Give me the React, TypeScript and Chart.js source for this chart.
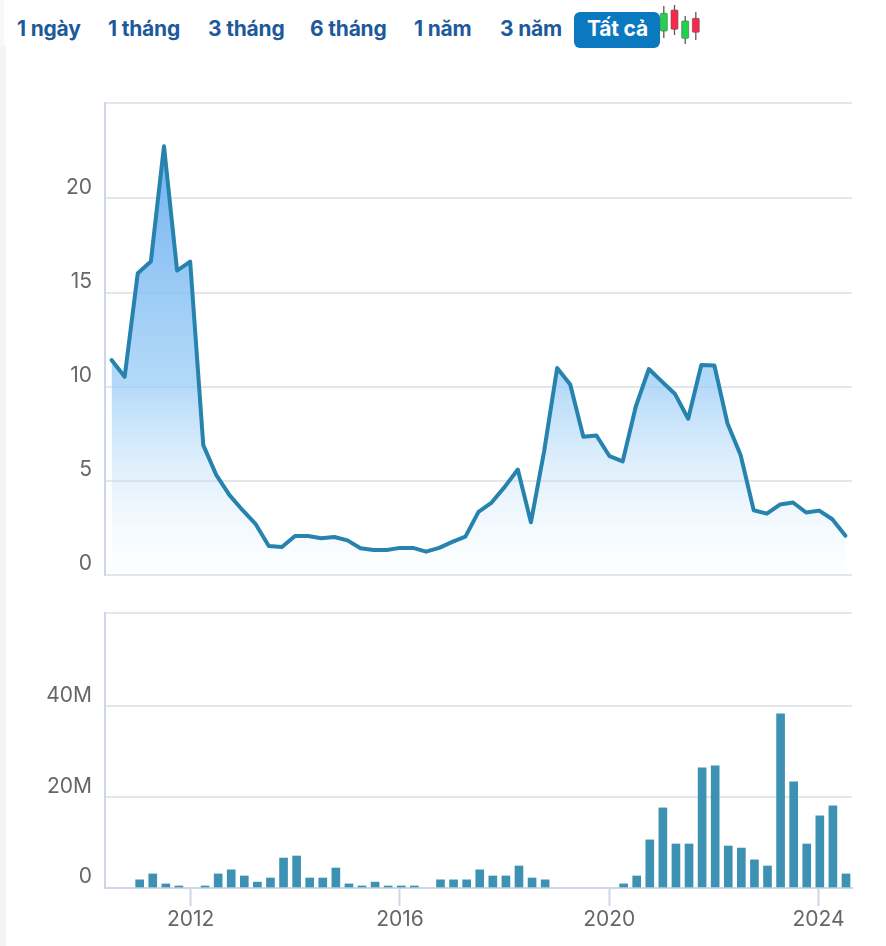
import React, { useEffect, useRef } from "react";
import { Chart, registerables } from "chart.js";

Chart.register(...registerables);

const quarters: string[] = [
  "2010-07","2010-10",
  "2011-01","2011-04","2011-07","2011-10",
  "2012-01","2012-04","2012-07","2012-10",
  "2013-01","2013-04","2013-07","2013-10",
  "2014-01","2014-04","2014-07","2014-10",
  "2015-01","2015-04","2015-07","2015-10",
  "2016-01","2016-04","2016-07","2016-10",
  "2017-01","2017-04","2017-07","2017-10",
  "2018-01","2018-04","2018-07","2018-10",
  "2019-01","2019-04","2019-07","2019-10",
  "2020-01","2020-04","2020-07","2020-10",
  "2021-01","2021-04","2021-07","2021-10",
  "2022-01","2022-04","2022-07","2022-10",
  "2023-01","2023-04","2023-07","2023-10",
  "2024-01","2024-04","2024-07",
];

const price: number[] = [
  11.42,10.53,16.03,16.65,22.77,16.17,16.65,6.9,5.3,4.24,3.44,2.7,1.54,1.49,2.07,2.07,
  1.95,2.02,1.84,1.42,1.33,1.33,1.44,1.44,1.24,1.44,1.76,2.04,3.35,3.85,4.68,5.6,2.8,
  6.54,10.99,10.12,7.34,7.41,6.31,6.03,8.94,10.94,10.27,9.61,8.3,11.15,11.13,8.05,6.37,
  3.44,3.26,3.74,3.85,3.32,3.42,2.96,2.09,
];

// millions of shares; null where no bar is drawn
const volume: (number | null)[] = [
  null,null,1.8,3.1,0.9,0.45,null,0.45,3.1,4,2.65,1.3,2.2,6.6,7.05,2.2,
  2.2,4.4,0.9,0.45,1.3,0.45,0.45,0.45,null,1.8,1.8,1.8,4,2.65,2.65,4.85,2.2,
  1.8,null,null,null,null,null,0.9,2.65,10.6,17.65,9.7,9.7,26.5,26.9,9.25,8.8,
  6.2,4.85,38.4,23.4,9.7,15.9,18.1,3.1,
];

const priceTicks: number[] = [0, 5, 10, 15, 20];
const priceTop = 25.07;
const volumeTicks: number[] = [0, 20, 40];
const volumeTop = 60.6;
const yearTicks: string[] = ["2012-01", "2016-01", "2020-01", "2024-01"];

const ranges: { label: string; left: number }[] = [
  { label: "1 ngày", left: 17 },
  { label: "1 tháng", left: 108 },
  { label: "3 tháng", left: 208 },
  { label: "6 tháng", left: 310 },
  { label: "1 năm", left: 414 },
  { label: "3 năm", left: 500 },
];

const FONT = "Inter, 'Noto Sans', sans-serif";
const GRID = "#e3e6ea";
const AXIS = "#cdd6e8";
const TEXT = "#666666";
const AXIS_WIDTH = 105;
// volume bars sit a little later than the quarter's tick
const BAR_SHIFT = 0.1;

function yScale(values: number[], top: number, fmt: (v: number) => string) {
  return {
    min: 0,
    max: top,
    afterBuildTicks(s: any) {
      s.ticks = [...values, top].map((value) => ({ value }));
    },
    afterFit(s: any) {
      s.width = AXIS_WIDTH;
      s.paddingTop = 0;
      s.paddingBottom = 0;
    },
    border: { display: true, color: AXIS, width: 2 },
    grid: { color: GRID, lineWidth: 2, drawTicks: false },
    ticks: {
      autoSkip: false,
      padding: 13,
      labelOffset: -11,
      color: TEXT,
      font: { family: FONT, size: 21 },
      callback: (v: number) => (v === top ? "" : fmt(v)),
    },
  };
}

function Candle({ x, w0, w1, b0, b1, fill }: { x: number; w0: number; w1: number; b0: number; b1: number; fill: string }) {
  return (
    <g>
      <line x1={x + 3.5} x2={x + 3.5} y1={w0} y2={w1} stroke="#5a5a5a" strokeWidth={1.3} />
      <rect x={x} y={b0} width={7} height={b1 - b0} fill={fill} stroke="#5a5a5a" strokeWidth={0.6} rx={0.8} />
    </g>
  );
}

export default function App() {
  const topRef = useRef<HTMLCanvasElement>(null);
  const bottomRef = useRef<HTMLCanvasElement>(null);

  useEffect(() => {
    const lineChart = new Chart(topRef.current!, {
      type: "line",
      data: {
        labels: quarters,
        datasets: [
          {
            data: price,
            borderColor: "#2683ae",
            borderWidth: 4,
            borderJoinStyle: "round",
            borderCapStyle: "round",
            pointRadius: 0,
            tension: 0,
            fill: "origin",
            backgroundColor: (ctx: any) => {
              const { chart } = ctx;
              const area = chart.chartArea;
              if (!area) return "rgba(0,0,0,0)";
              const g = chart.ctx.createLinearGradient(0, area.top + 44, 0, area.bottom);
              g.addColorStop(0, "rgba(112,178,240,1)");
              g.addColorStop(0.55, "rgba(150,202,246,0.72)");
              g.addColorStop(1, "rgba(220,238,252,0.05)");
              return g;
            },
          },
        ],
      },
      options: {
        responsive: false,
        animation: false,
        devicePixelRatio: 1,
        layout: { padding: { top: 8, right: 34, bottom: 10, left: 0 } },
        plugins: { legend: { display: false }, tooltip: { enabled: false } },
        scales: {
          x: { display: false, offset: true, grid: { offset: true } },
          y: yScale(priceTicks, priceTop, (v) => String(v)),
        },
      } as any,
    });

    const barChart = new Chart(bottomRef.current!, {
      type: "bar",
      data: {
        datasets: [
          {
            data: volume.map((y, i) => ({ x: i + BAR_SHIFT, y })),
            backgroundColor: "#3d92b4",
            barThickness: 8,
          },
        ],
      },
      options: {
        responsive: false,
        animation: false,
        devicePixelRatio: 1,
        layout: { padding: { top: 8, right: 34, bottom: 0, left: 0 } },
        plugins: { legend: { display: false }, tooltip: { enabled: false } },
        scales: {
          x: {
            type: "linear",
            min: -0.55,
            max: 56.56,
            offset: false,
            afterBuildTicks(s: any) {
              s.ticks = yearTicks.map((q) => ({ value: quarters.indexOf(q) }));
            },
            afterFit(s: any) {
              s.height = 58;
              s.paddingLeft = 0;
              s.paddingRight = 0;
            },
            border: { display: true, color: AXIS, width: 2 },
            grid: {
              offset: false,
              drawOnChartArea: false,
              drawTicks: true,
              tickLength: 18,
              tickColor: AXIS,
              tickWidth: 2,
            },
            ticks: {
              autoSkip: false,
              maxRotation: 0,
              padding: 1,
              color: TEXT,
              font: { family: FONT, size: 21 },
              callback: (v: number) => quarters[v].slice(0, 4),
            },
          },
          y: yScale(volumeTicks, volumeTop, (v) => (v === 0 ? "0" : `${v}M`)),
        },
      } as any,
    });

    return () => {
      lineChart.destroy();
      barChart.destroy();
    };
  }, []);

  const btn: React.CSSProperties = {
    position: "absolute",
    top: 15,
    fontFamily: FONT,
    fontWeight: 700,
    fontSize: 21,
    lineHeight: "28px",
    letterSpacing: -0.2,
    color: "#1d5a9b",
    whiteSpace: "nowrap",
  };

  return (
    <div style={{ position: "absolute", left: 0, top: 0, width: 886, height: 946, overflow: "hidden", background: "#fff" }}>
      <div style={{ position: "absolute", left: 0, top: 46, width: 6, height: 900, background: "#f4f3f5" }} />
      <div style={{ position: "absolute", left: 0, top: 0, width: 4, height: 46, background: "#f8f8f9" }} />
      {ranges.map((r) => (
        <span key={r.label} style={{ ...btn, left: r.left }}>{r.label}</span>
      ))}
      <div style={{ position: "absolute", left: 574, top: 12, width: 86, height: 36, background: "#0a79bf", borderRadius: 6 }} />
      <span style={{ ...btn, left: 587, color: "#fff" }}>Tất cả</span>
      <svg style={{ position: "absolute", left: 655, top: 0 }} width={50} height={48} viewBox="655 0 50 48">
        <Candle x={660.3} w0={6} w1={38} b0={13.3} b1={31} fill="#1fd34a" />
        <Candle x={671} w0={5} w1={35} b0={10} b1={29.3} fill="#f7284a" />
        <Candle x={681.7} w0={16} w1={44} b0={21} b1={38.3} fill="#1fd34a" />
        <Candle x={692.3} w0={12} w1={40} b0={18.3} b1={32.3} fill="#f7284a" />
      </svg>
      <canvas ref={topRef} width={886} height={490} style={{ position: "absolute", left: 0, top: 95, width: 886, height: 490 }} />
      <canvas ref={bottomRef} width={886} height={341} style={{ position: "absolute", left: 0, top: 605, width: 886, height: 341 }} />
    </div>
  );
}
